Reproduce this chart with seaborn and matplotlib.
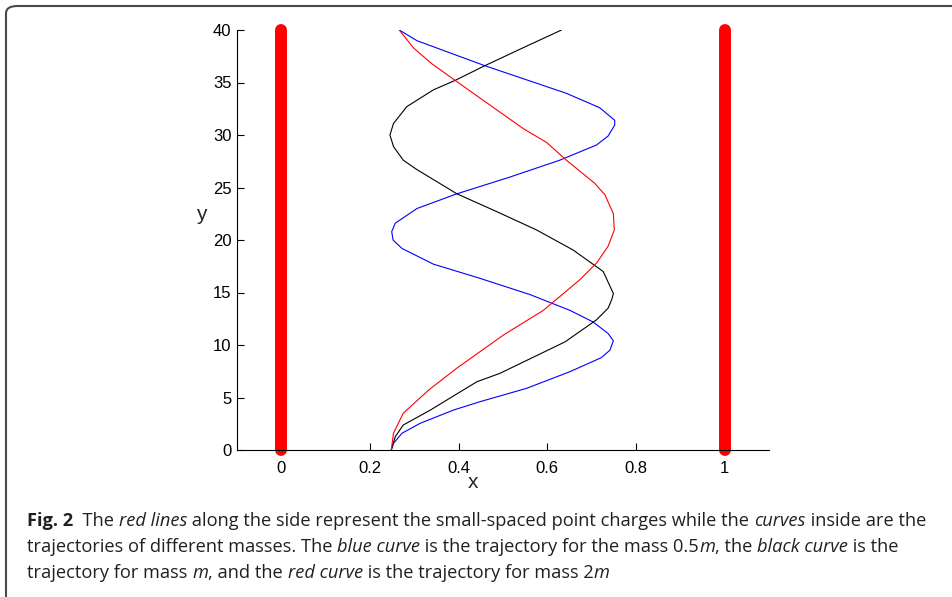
import numpy as np
import pandas as pd
import matplotlib
matplotlib.use("Agg")
import matplotlib.pyplot as plt
import seaborn as sns
from matplotlib.patches import FancyBboxPatch

# ---- data ----
blue_x = [0.248, 0.253, 0.272, 0.313, 0.388, 0.448, 0.553, 0.651, 0.722, 0.741, 0.749, 0.737,
          0.703, 0.651, 0.561, 0.448, 0.343, 0.272, 0.252, 0.249, 0.257, 0.306, 0.396, 0.516,
          0.628, 0.711, 0.737, 0.752, 0.752, 0.718, 0.643, 0.459, 0.306, 0.266]
blue_y = [0.0, 0.63, 1.59, 2.54, 3.8, 4.6, 5.87, 7.46, 8.8, 9.5, 10.4, 11.1,
          12.2, 13.3, 14.8, 16.35, 17.7, 19.2, 20.0, 20.8, 21.6, 23.0, 24.4, 26.0,
          27.6, 29.05, 29.9, 30.95, 31.4, 32.6, 33.97, 36.6, 38.98, 40.0]

black_x = [0.248, 0.257, 0.275, 0.336, 0.441, 0.493, 0.64, 0.711, 0.737, 0.745, 0.749, 0.726,
           0.658, 0.576, 0.486, 0.396, 0.306, 0.275, 0.253, 0.245, 0.253, 0.283, 0.343, 0.392,
           0.459, 0.55, 0.632]
black_y = [0.0, 1.27, 2.38, 3.8, 6.5, 7.3, 10.3, 12.4, 13.5, 14.3, 14.9, 17.0,
           19.05, 20.95, 22.7, 24.4, 26.7, 27.6, 28.9, 30.0, 31.1, 32.7, 34.3, 35.2,
           36.6, 38.4, 40.0]

red_x = [0.248, 0.253, 0.275, 0.332, 0.396, 0.501, 0.591, 0.673, 0.711, 0.737, 0.751, 0.749,
         0.730, 0.707, 0.643, 0.598, 0.546, 0.392, 0.339, 0.298, 0.266]
red_y = [0.0, 1.6, 3.5, 5.7, 7.8, 10.95, 13.3, 16.2, 17.8, 19.4, 20.95, 22.5,
         24.3, 25.4, 27.6, 29.3, 30.6, 35.2, 36.8, 38.3, 40.0]

wall_left_x = [0.0, 0.0]
wall_right_x = [1.0, 1.0]
wall_y = [0.0, 40.0]

x_ticks = [0, 0.2, 0.4, 0.6, 0.8, 1]
x_tick_labels = ["0", "0.2", "0.4", "0.6", "0.8", "1"]
y_ticks = [0, 5, 10, 15, 20, 25, 30, 35, 40]

# ---- figure ----
sns.set_style("ticks")
plt.rcParams["font.family"] = ["Liberation Sans", "DejaVu Sans"]
plt.rcParams["xtick.direction"] = "in"
plt.rcParams["ytick.direction"] = "in"

W, H = 952, 597
fig = plt.figure(figsize=(W / 100, H / 100), dpi=100)
ax = fig.add_axes([237 / W, 1 - 450 / H, (769 - 237) / W, (450 - 30) / H])

for wx in (wall_left_x, wall_right_x):
    sns.lineplot(x=wx, y=wall_y, ax=ax, color="#ff0000", linewidth=8.6,
                 sort=False, estimator=None)
for ln in ax.lines:
    ln.set_solid_capstyle("round")
    ln.set_clip_on(False)

sns.lineplot(x=blue_x, y=blue_y, ax=ax, color="#0000ff", linewidth=0.8, sort=False, estimator=None)
sns.lineplot(x=black_x, y=black_y, ax=ax, color="#000000", linewidth=0.8, sort=False, estimator=None)
sns.lineplot(x=red_x, y=red_y, ax=ax, color="#ff0000", linewidth=0.8, sort=False, estimator=None)

ax.set_xlim(-0.1, 1.1)
ax.set_ylim(0, 40)
ax.set_xticks(x_ticks)
ax.set_xticklabels(x_tick_labels)
ax.set_yticks(y_ticks)
ax.tick_params(direction="in", length=5, width=0.8, labelsize=12, colors="black",
               bottom=True, left=True, top=False, right=False)
ax.tick_params(axis="x", pad=8)
ax.tick_params(axis="y", pad=4)
for s in ("top", "right"):
    ax.spines[s].set_visible(False)
for s in ("left", "bottom"):
    ax.spines[s].set_color("black")
    ax.spines[s].set_linewidth(0.8)

fig.text(473 / W, 1 - 483 / H, "x", ha="center", va="center", fontsize=15)
fig.text(201 / W, 1 - 215 / H, "y", ha="center", va="center", fontsize=15)

# ---- frame around the figure ----
box = FancyBboxPatch((6 / W, -20 / H), (W + 30) / W, (H + 20 - 6) / H,
                     boxstyle="round,pad=0,rounding_size=0.012",
                     transform=fig.transFigure, fill=False, edgecolor="#4a4a4a",
                     linewidth=1.5, clip_on=False)
fig.patches.append(box)

# ---- caption ----
cap_family = ["Open Sans", "DejaVu Sans"]
lines = [
    [("Fig. 2", "bold", "normal"), ("  The ", "normal", "normal"), ("red lines", "normal", "italic"),
     (" along the side represent the small-spaced point charges while the ", "normal", "normal"),
     ("curves", "normal", "italic"), (" inside are the", "normal", "normal")],
    [("trajectories of different masses. The ", "normal", "normal"), ("blue curve", "normal", "italic"),
     (" is the trajectory for the mass 0.5", "normal", "normal"), ("m", "normal", "italic"),
     (", the ", "normal", "normal"), ("black curve", "normal", "italic"), (" is the", "normal", "normal")],
    [("trajectory for mass ", "normal", "normal"), ("m", "normal", "italic"),
     (", and the ", "normal", "normal"), ("red curve", "normal", "italic"),
     (" is the trajectory for mass 2", "normal", "normal"), ("m", "normal", "italic")],
]
baselines = [526, 552, 578]

renderer = fig.canvas.get_renderer()

def measure(pieces, size):
    tot = 0
    for t, w, st in pieces:
        tt = fig.text(0, 0, t, fontsize=size, fontweight=w, fontstyle=st, family=cap_family)
        tot += tt.get_window_extent(renderer).width
        tt.remove()
    return tot

base_size = 12
w1 = measure(lines[0], base_size)
size = base_size * (925 - 27) / w1

for pieces, by in zip(lines, baselines):
    xpx = 27
    for t, w, st in pieces:
        tt = fig.text(xpx / W, 1 - by / H, t, fontsize=size, fontweight=w, fontstyle=st,
                      family=cap_family, va="baseline", ha="left", color="#231f20")
        xpx += tt.get_window_extent(renderer).width

fig.savefig("out.png", dpi=100)
